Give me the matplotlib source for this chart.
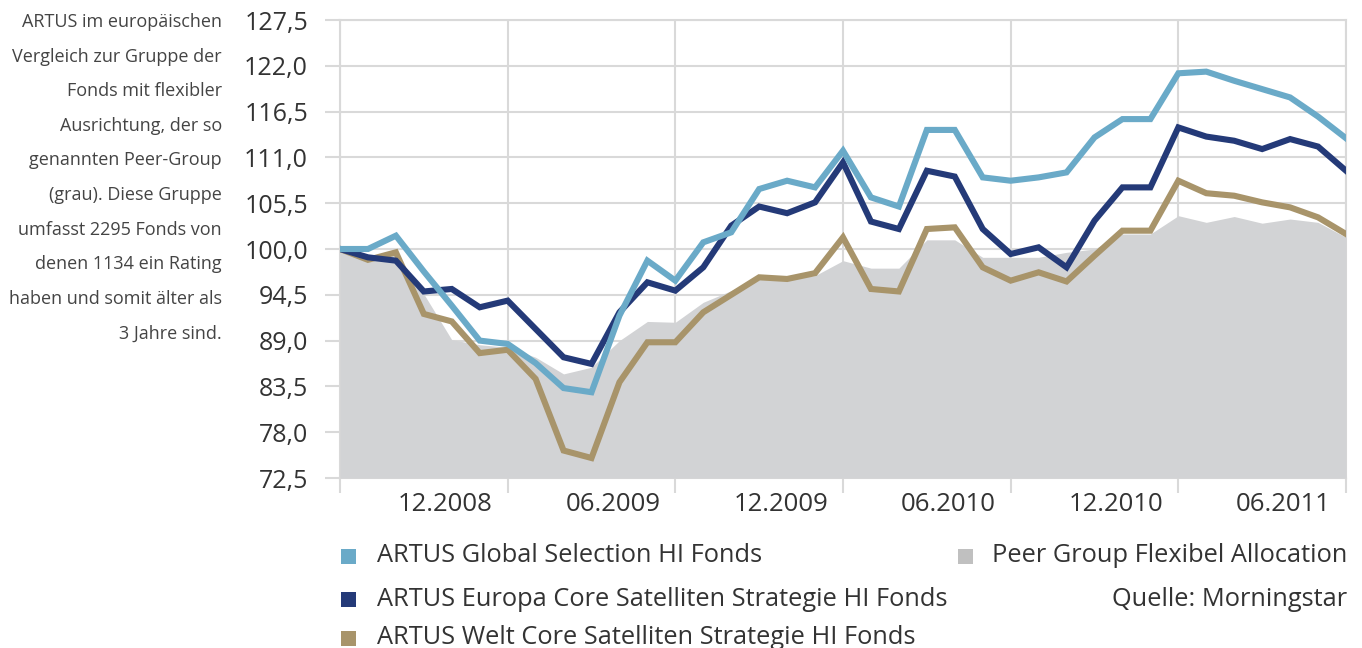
import numpy as np
import matplotlib
matplotlib.use("Agg")
import matplotlib.pyplot as plt
import matplotlib.patches as mpt
import matplotlib.transforms as mtr

plt.rcParams['font.family'] = ['Open Sans', 'DejaVu Sans']

# monthly values, 06.2008 .. 06.2011
glob = [100.0, 100.0, 101.6, 97.3, 93.2, 89.0, 88.6, 86.3, 83.3, 82.8,
        92.0, 98.6, 96.2, 100.8, 102.0, 107.2, 108.2, 107.4, 111.8, 106.2,
        105.1, 114.3, 114.3, 108.6, 108.2, 108.6, 109.2, 113.4, 115.6, 115.6,
        121.1, 121.3, 120.2, 119.2, 118.2, 115.9, 113.3]
europa = [100.0, 99.0, 98.6, 94.9, 95.2, 93.0, 93.8, 90.4, 87.0, 86.2,
          92.4, 96.0, 95.0, 97.8, 102.8, 105.1, 104.3, 105.6, 110.4, 103.3,
          102.4, 109.4, 108.7, 102.4, 99.4, 100.2, 97.8, 103.4, 107.4, 107.4,
          114.6, 113.5, 113.0, 112.0, 113.2, 112.3, 109.4]
welt = [100.0, 98.7, 99.6, 92.2, 91.3, 87.5, 87.9, 84.4, 75.8, 74.9,
        84.0, 88.8, 88.8, 92.4, 94.5, 96.6, 96.4, 97.1, 101.4, 95.2,
        94.9, 102.4, 102.6, 97.8, 96.2, 97.2, 96.1, 99.2, 102.2, 102.2,
        108.2, 106.7, 106.4, 105.6, 105.0, 103.8, 101.8]
peer = [100.0, 98.8, 99.5, 94.6, 89.1, 88.5, 88.2, 87.0, 85.0, 85.8,
        89.0, 91.3, 91.2, 93.6, 95.0, 96.6, 96.4, 96.8, 98.6, 97.7,
        97.7, 101.1, 101.1, 99.0, 99.0, 99.0, 99.6, 100.0, 101.8, 101.8,
        104.0, 103.2, 103.9, 103.1, 103.6, 103.2, 101.4]

xlabels = ['', '12.2008', '06.2009', '12.2009', '06.2010', '12.2010', '06.2011']
yticks = [72.5, 78.0, 83.5, 89.0, 94.5, 100.0, 105.5, 111.0, 116.5, 122.0, 127.5]

names = ['ARTUS Global Selection HI Fonds',
         'ARTUS Europa Core Satelliten Strategie HI Fonds',
         'ARTUS Welt Core Satelliten Strategie HI Fonds']
peer_name = 'Peer Group Flexibel Allocation'

side_text = ['ARTUS im europäischen', 'Vergleich zur Gruppe der',
             'Fonds mit flexibler', 'Ausrichtung, der so',
             'genannten Peer-Group', '(grau). Diese Gruppe',
             'umfasst 2295 Fonds von', 'denen 1134 ein Rating',
             'haben und somit älter als', '3 Jahre sind.']

c_glob = '#6aaac8'
c_eur = '#243a78'
c_welt = '#a8946a'
c_peer = '#d2d3d5'
c_grid = '#d9d9d9'
c_text = '#333333'

W, H = 1362, 648
fig = plt.figure(figsize=(W/100, H/100), dpi=100)
ax = fig.add_axes([340/W, 1-478/H, (1346-340)/W, (478-20)/H])

x = np.arange(len(glob))
ax.fill_between(x, 72.5, peer, color=c_peer, lw=0, zorder=1)
ax.plot(x, welt, color=c_welt, lw=4.4, zorder=3, solid_joinstyle='miter')
ax.plot(x, europa, color=c_eur, lw=4.4, zorder=4, solid_joinstyle='miter')
ax.plot(x, glob, color=c_glob, lw=4.4, zorder=5, solid_joinstyle='miter')

ax.set_xlim(0, len(glob)-1)
ax.set_ylim(72.5, 127.5)
ax.set_yticks(yticks)
ax.set_yticklabels([('%.1f' % v).replace('.', ',') for v in yticks])
ax.set_xticks(np.arange(0, len(glob), 6))
ax.set_xticklabels(xlabels)

ax.set_axisbelow(True)
ax.grid(True, color=c_grid, lw=1.5)
for sp in ax.spines.values():
    sp.set_color(c_grid)
    sp.set_linewidth(1.5)
    sp.set_zorder(0.5)

ax.tick_params(axis='y', length=11, width=1.5, color=c_grid, pad=12,
               labelsize=18, labelcolor=c_text)
ax.tick_params(axis='x', length=11, width=1.5, color=c_grid, pad=-1,
               labelsize=18.5, labelcolor=c_text)

off = mtr.ScaledTranslation(-15/100, 0, fig.dpi_scale_trans)
for lbl in ax.get_xticklabels():
    lbl.set_ha('right')
    lbl.set_transform(lbl.get_transform() + off)

# side note
for k, line in enumerate(side_text):
    fig.text(222/W, 1-(22+34.6*k)/H, line, ha='right', va='center',
             fontsize=13, color='#444444')

# legend
rows = [556, 599, 638]
for nm, col, yy in zip(names, [c_glob, c_eur, c_welt], rows):
    fig.add_artist(mpt.Rectangle((341/W, 1-(yy+8)/H), 15/W, 15/H,
                                 transform=fig.transFigure, color=col, lw=0))
    fig.text(377/W, 1-yy/H, nm, ha='left', va='center', fontsize=18.3,
             color=c_text)
fig.add_artist(mpt.Rectangle((958/W, 1-(556+8)/H), 15/W, 15/H,
                             transform=fig.transFigure, color='#c0c0c0', lw=0))
fig.text(1347/W, 1-556/H, peer_name, ha='right', va='center', fontsize=18.3,
         color=c_text)
fig.text(1347/W, 1-599/H, 'Quelle: Morningstar', ha='right', va='center',
         fontsize=18.3, color=c_text)

fig.savefig('out.png', dpi=100)
